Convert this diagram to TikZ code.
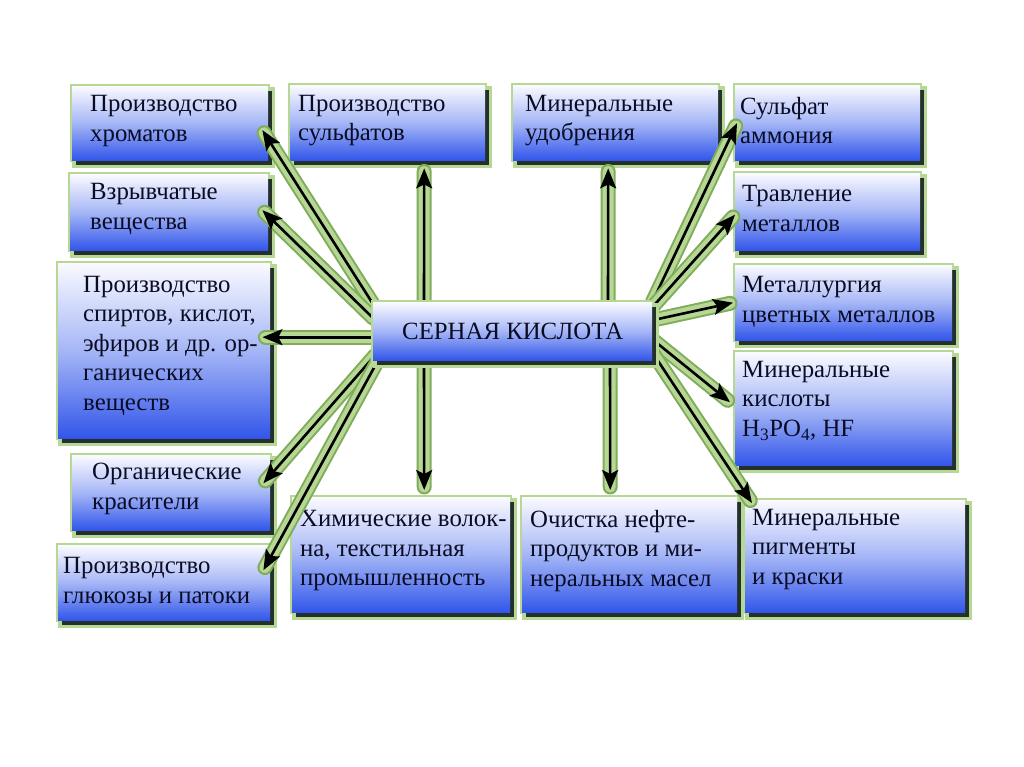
\documentclass[tikz,border=0pt]{standalone}
\usepackage{fontspec}
\setmainfont{Liberation Serif}
\usetikzlibrary{arrows.meta,shadows,calc}
\definecolor{glowc}{RGB}{182,216,148}
\definecolor{glowd}{RGB}{128,172,92}
\definecolor{boxtop}{RGB}{250,250,255}
\definecolor{boxmid}{RGB}{165,182,246}
\definecolor{boxbot}{RGB}{50,86,234}
\definecolor{shad}{RGB}{36,48,44}
\definecolor{txt}{RGB}{10,12,36}
\begin{document}
\begin{tikzpicture}[x=1pt,y=-1pt,
  bx/.style={anchor=north west, inner sep=0pt, top color=boxtop, bottom color=boxbot, middle color=boxmid,
    general shadow={fill=glowc, draw=glowc, line width=7pt, shadow xshift=3.5pt, shadow yshift=-4.5pt},
    preaction={draw=glowc, line width=4pt},
    drop shadow={fill=shad, opacity=1, shadow xshift=3.5pt, shadow yshift=-4.5pt}},
  tx/.style={anchor=west, align=left, inner sep=0pt, font=\fontsize{24.8}{29.5}\selectfont, text=txt},
  arr/.style={line width=2.6pt, -{Stealth[length=20pt,width=16pt,inset=4pt]},
    preaction={draw=glowd, line width=15pt, arrows=-, line cap=round, shorten >=3pt},
    preaction={draw=glowc, line width=11pt, arrows=-, line cap=round, shorten >=3pt}},
]
\useasboundingbox[fill=white] (0,0) rectangle (1024,767);

% boxes
\node[bx, minimum width=196pt, minimum height=74pt] (b1) at (72,86) {};
\node[bx, minimum width=198pt, minimum height=76pt] (b2) at (70,174) {};
\node[bx, minimum width=212pt, minimum height=175pt] (b3) at (58,263) {};
\node[bx, minimum width=198pt, minimum height=75pt] (b4) at (72,455) {};
\node[bx, minimum width=212pt, minimum height=75pt] (b5) at (58,545) {};
\node[bx, minimum width=195pt, minimum height=75pt] (b6) at (290,85) {};
\node[bx, minimum width=205pt, minimum height=75pt] (b7) at (513,85) {};
\node[bx, minimum width=185pt, minimum height=75pt] (b8) at (735,85) {};
\node[bx, minimum width=185pt, minimum height=77pt] (b9) at (735,173) {};
\node[bx, minimum width=217pt, minimum height=75pt] (b10) at (735,265) {};
\node[bx, minimum width=217pt, minimum height=113pt] (b11) at (735,352) {};
\node[bx, minimum width=220pt, minimum height=112pt] (b12) at (745,500) {};
\node[bx, minimum width=218pt, minimum height=115pt] (b13) at (292,497) {};
\node[bx, minimum width=215pt, minimum height=115pt] (b14) at (522,497) {};

% texts
\node[tx] (t1) at ([xshift=18pt,yshift=2pt]b1.west) {Производство\\хроматов};
\node[tx] (t2) at ([xshift=20pt,yshift=3pt]b2.west) {Взрывчатые\\вещества};
\node[tx] (t3) at ([xshift=25pt,yshift=5pt]b3.west) {Производство\\спиртов, кислот,\\эфиров и др. ор-\\ганических\\веществ};
\node[tx] (t4) at ([xshift=20pt,yshift=4pt]b4.west) {Органические\\красители};
\node[tx] (t5) at ([xshift=5pt,yshift=2pt]b5.west) {Производство\\глюкозы и патоки};
\node[tx] (t6) at ([xshift=8pt,yshift=2pt]b6.west) {Производство\\сульфатов};
\node[tx] (t7) at ([xshift=12pt,yshift=2pt]b7.west) {Минеральные\\удобрения};
\node[tx] (t8) at ([xshift=5pt,yshift=2pt]b8.west) {Сульфат\\аммония};
\node[tx] (t9) at ([xshift=7pt,yshift=3pt]b9.west) {Травление\\металлов};
\node[tx] (t10) at ([xshift=7pt,yshift=1pt]b10.west) {Металлургия\\цветных металлов};
\node[tx] (t11) at ([xshift=7pt,yshift=8pt]b11.west) {Минеральные\\кислоты\\H\textsubscript{3}PO\textsubscript{4}, HF};
\node[tx] (t12) at ([xshift=7pt,yshift=7pt]b12.west) {Минеральные\\пигменты\\и краски};
\node[tx] (t13) at ([xshift=8pt,yshift=4pt]b13.west) {Химические волок-\\на, текстильная\\промышленность};
\node[tx] (t14) at ([xshift=8pt,yshift=4pt]b14.west) {Очистка нефте-\\продуктов и ми-\\неральных масел};

% centre reference (invisible helper for connector ends)
\path (373,302) coordinate (cnw);
\node[inner sep=0pt, minimum width=279pt, minimum height=58pt, anchor=north west] (c0) at (cnw) {};

% connectors
\draw[arr] ($(c0.north west)+(0,2)$) -- ($(b1.east)+(-6,7)$);
\draw[arr] ($(c0.north west)+(0,16)$) -- ($(b2.east)+(-6,-2)$);
\draw[arr] ($(c0.west)+(0,6)$) -- ($(b3.east)+(-8,-13.5)$);
\draw[arr] ($(c0.south west)+(2,-5)$) -- ($(b4.east)+(-7,-9.5)$);
\draw[arr] ($(c0.south west)+(5,0)$) -- ($(b5.east)+(-7,-12.5)$);
\draw[arr] ($(c0.north west)+(51,0)$) -- ($(b6.south)+(36.5,8)$);
\draw[arr] ($(c0.north west)+(235,0)$) -- ($(b7.south)+(-7.5,8)$);
\draw[arr] ($(c0.south west)+(51,0)$) -- ($(b13.north)+(23,-7)$);
\draw[arr] ($(c0.south west)+(237,0)$) -- ($(b14.north)+(-19.5,-7)$);
\draw[arr] ($(c0.north east)+(0,0)$) -- ($(b8.west)+(2,0.5)$);
\draw[arr] ($(c0.north east)+(1,4)$) -- ($(b9.west)+(0,3)$);
\draw[arr] ($(c0.north east)+(1,18)$) -- ($(b10.west)+(-2,0)$);
\draw[arr] ($(c0.east)+(1,9)$) -- ($(b11.west)+(-5,-6.5)$);
\draw[arr] ($(c0.south east)+(0,-8)$) -- ($(b12.north west)+(7,3)$);

% centre box
\node[bx, minimum width=279pt, minimum height=58pt, font=\fontsize{24.8}{28}\selectfont, text=txt] (c) at (cnw) {СЕРНАЯ КИСЛОТА};
\end{tikzpicture}
\end{document}
